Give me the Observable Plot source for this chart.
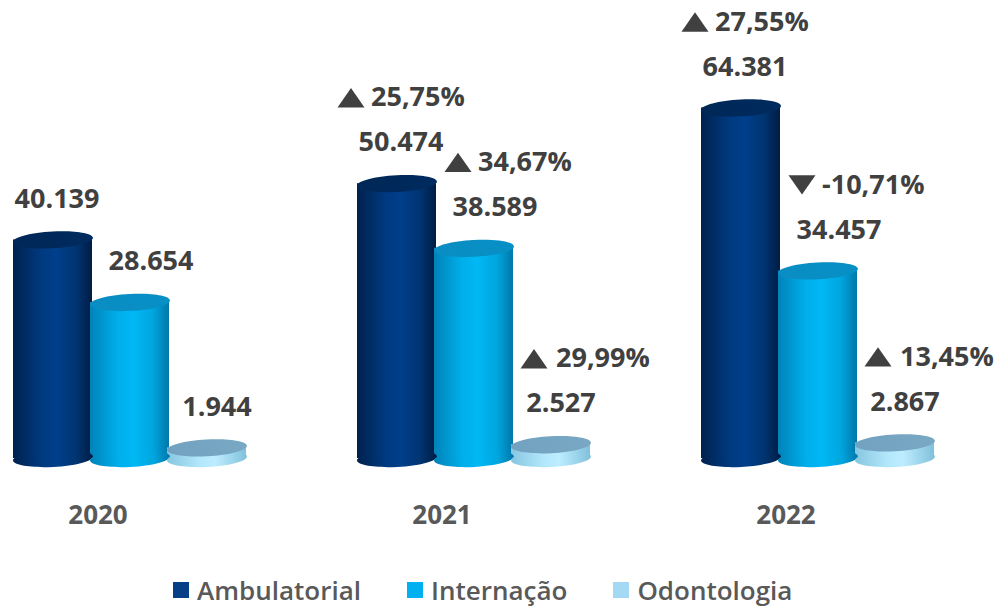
<!DOCTYPE html>
<html><head><meta charset="utf-8">
<script src="https://cdn.jsdelivr.net/npm/d3@7"></script>
<script src="https://cdn.jsdelivr.net/npm/@observablehq/plot@0.6"></script>
<style>
html,body{margin:0;padding:0;background:#fff;}
#chart{width:997px;height:608px;position:relative;overflow:hidden;}
.legend{display:flex;align-items:center;height:36px;margin-top:2px;padding-left:173px;font-family:"Open Sans",sans-serif;font-weight:600;font-size:26px;line-height:1;color:#595959;}
.legend .item{display:flex;align-items:center;margin-right:46px;}
.legend .sw{width:16px;height:16px;margin-right:8px;}
</style></head><body><div id="chart"></div>
<script>
const years = ["2020", "2021", "2022"];
const series = ["Ambulatorial", "Internação", "Odontologia"];
const ambulatorial = [40139, 50474, 64381];
const internacao = [28654, 38589, 34457];
const odontologia = [1944, 2527, 2867];
const ambulatorialChange = [null, 25.75, 27.55];
const internacaoChange = [null, 34.67, -10.71];
const odontologiaChange = [null, 29.99, 13.45];
const legendColors = ["#063f86", "#00b0f0", "#a3d9f3"];

const allValues = [ambulatorial, internacao, odontologia];
const allChanges = [ambulatorialChange, internacaoChange, odontologiaChange];
const rows = [];
allValues.forEach((vals, s) => vals.forEach((v, i) => rows.push({
  year: years[i], serie: series[s], s, value: v, change: allChanges[s][i]
})));

const loc = d3.formatLocale({decimal: ",", thousands: ".", grouping: [3], currency: ["", ""], minus: "-"});
const fInt = loc.format(",d");
const fPct = loc.format(".2f");

const ellipse = (ratio) => ({
  draw(ctx, size) {
    const rx = Math.sqrt(size / Math.PI), ry = rx * ratio, k = 0.5523;
    ctx.moveTo(-rx, 0);
    ctx.bezierCurveTo(-rx, -ry * k, -rx * k, -ry, 0, -ry);
    ctx.bezierCurveTo(rx * k, -ry, rx, -ry * k, rx, 0);
    ctx.bezierCurveTo(rx, ry * k, rx * k, ry, 0, ry);
    ctx.bezierCurveTo(-rx * k, ry, -rx, ry * k, -rx, 0);
    ctx.closePath();
  }
});
const triangle = (dir) => ({
  draw(ctx, size) {
    const r = Math.sqrt(size / Math.PI), h = r * 0.72;
    ctx.moveTo(0, -h * dir);
    ctx.lineTo(r, h * dir);
    ctx.lineTo(-r, h * dir);
    ctx.closePath();
  }
});

const labelFont = {fontFamily: "'Open Sans', sans-serif", fontWeight: 700, fontSize: 27, fill: "#404040"};
const valueDx = [4, 21, 10];
const triDx = [-46, -16, -17];
const pctDx = [-26, 4, 5];

const marks = [
  Plot.barY(rows, {fx: "year", x: "serie", y: "value", fill: d => `url(#body${d.s})`, insetLeft: -1, insetRight: -1}),
  Plot.dot(rows, {fx: "year", x: "serie", y: () => 0, r: 40, symbol: ellipse(0.21), rotate: -3, fill: d => `url(#body${d.s})`, stroke: null}),
  Plot.dot(rows, {fx: "year", x: "serie", y: "value", r: 40, symbol: ellipse(0.21), rotate: -3, fill: d => `url(#top${d.s})`, stroke: null})
];
series.forEach((name, s) => {
  const sub = rows.filter(d => d.s === s);
  const ch = sub.filter(d => d.change != null);
  marks.push(Plot.text(sub, {fx: "year", x: "serie", y: "value", text: d => fInt(d.value), dy: -41, dx: valueDx[s], ...labelFont}));
  marks.push(Plot.dot(ch.filter(d => d.change >= 0), {fx: "year", x: "serie", y: "value", dy: -86, dx: triDx[s], r: 13.5, symbol: triangle(1), fill: "#404040", stroke: null}));
  marks.push(Plot.dot(ch.filter(d => d.change < 0), {fx: "year", x: "serie", y: "value", dy: -86, dx: triDx[s], r: 13.5, symbol: triangle(-1), fill: "#404040", stroke: null}));
  marks.push(Plot.text(ch, {fx: "year", x: "serie", y: "value", text: d => fPct(d.change).replace("\u2212", "-") + "%", dy: -86, dx: pctDx[s], textAnchor: "start", ...labelFont}));
});
marks.push(Plot.text(years, {fx: d => d, text: d => d, frameAnchor: "bottom", dy: 65, dx: -32,
  fontFamily: "'Open Sans', sans-serif", fontWeight: 700, fontSize: 26, fill: "#595959"}));

const svg = Plot.plot({
  width: 997, height: 570,
  marginLeft: 12, marginRight: 63, marginTop: 22.4, marginBottom: 112,
  fx: {domain: years, paddingInner: 0.324, paddingOuter: 0, axis: null, label: null},
  x: {domain: series, padding: 0, axis: null, label: null},
  y: {domain: [0, 80000], axis: null, label: null},
  color: {type: "identity"},
  marks
});

const defs = d3.select(svg).insert("defs", ":first-child");
const bodyStops = [
  [[0, "#00214d"], [0.35, "#00397f"], [0.55, "#003f8b"], [0.8, "#003470"], [1, "#001c44"]],
  [[0, "#0083b9"], [0.35, "#00aeea"], [0.55, "#00b8f5"], [0.8, "#00a5de"], [1, "#0077a9"]],
  [[0, "#86c6e0"], [0.4, "#b2e7fb"], [0.6, "#bdedff"], [1, "#80c0db"]]
];
const topStops = [
  [[0, "#002856"], [1, "#002b5f"]],
  [[0, "#0a8dc2"], [1, "#0790c6"]],
  [[0, "#72a2bf"], [1, "#78a8c4"]]
];
const addGrad = (id, stops) => {
  const g = defs.append("linearGradient").attr("id", id).attr("x1", 0).attr("x2", 1).attr("y1", 0).attr("y2", 0);
  stops.forEach(([o, c]) => g.append("stop").attr("offset", o).attr("stop-color", c));
};
bodyStops.forEach((st, i) => addGrad("body" + i, st));
topStops.forEach((st, i) => addGrad("top" + i, st));

const chart = document.getElementById("chart");
chart.appendChild(svg);
const legend = d3.select(chart).append("div").attr("class", "legend");
series.forEach((name, i) => {
  const it = legend.append("div").attr("class", "item");
  it.append("div").attr("class", "sw").style("background", legendColors[i]);
  it.append("span").text(name);
});
</script></body></html>
